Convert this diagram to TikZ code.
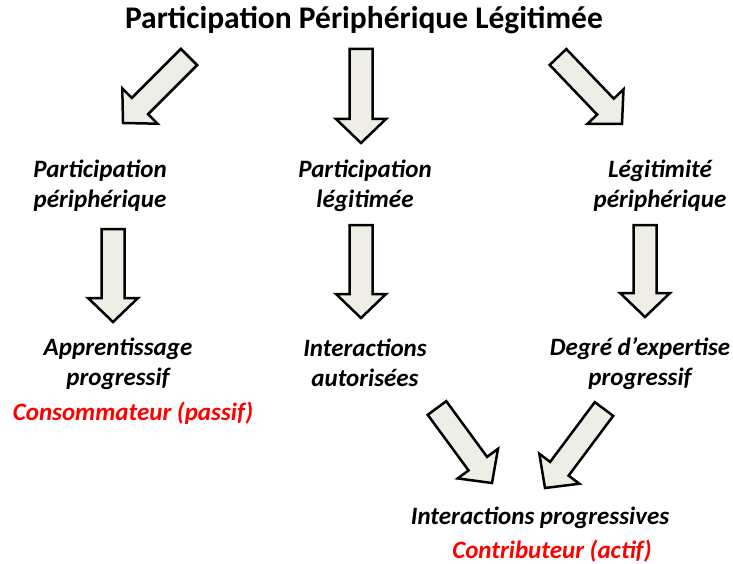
\documentclass[tikz,border=0pt]{standalone}
\usepackage{fontspec}
\setmainfont{Carlito}
\usetikzlibrary{calc}

% half shaft width, half head width, head length
\newcommand\shaftw{11.5pt}
\newcommand\headw{25pt}
\newcommand\headl{24pt}

% block arrow from tail coordinate #1 to tip coordinate #2
\newcommand\blockarrow[2]{%
  \coordinate (#1-h) at ($(#2)!\headl!(#1)$);
  \draw[blockarrow]
    ($(#1)!\shaftw!90:(#2)$) -- ($(#1-h)!\shaftw!-90:(#1)$)
    -- ($(#1-h)!\headw!-90:(#1)$) -- (#2)
    -- ($(#1-h)!\headw!90:(#1)$) -- ($(#1-h)!\shaftw!90:(#1)$)
    -- ($(#1)!\shaftw!-90:(#2)$) -- cycle;}

\definecolor{arrowfill}{HTML}{EEEEE6}

\tikzset{
  blockarrow/.style={draw=black, fill=arrowfill, line width=2.5pt, line join=miter},
  title/.style={font=\fontsize{31.5}{36}\selectfont\bfseries, inner sep=0pt},
  concept/.style={font=\fontsize{25}{30}\selectfont\bfseries\itshape, align=center, inner sep=0pt},
  role/.style={font=\fontsize{25}{30}\selectfont\bfseries\itshape, text=red, inner sep=0pt}
}

\begin{document}
\begin{tikzpicture}[x=1pt, y=-1pt]
\useasboundingbox (0,0) rectangle (733,564);

% texts
\node[title] (ppl) at (364,20) {Participation Périphérique Légitimée};

\node[concept] (pp) at (100,186) {Participation\\périphérique};
\node[concept] (pl) at (365,186) {Participation\\légitimée};
\node[concept] (lp) at (660,186) {Légitimité\\périphérique};

\node[concept] (ap) at (118,364) {Apprentissage\\progressif};
\node[concept] (ia) at (365,363) {Interactions\\autorisées};
\node[concept] (dp) at (640,364) {Degré d’expertise\\progressif};

\node[role] (cons) at (133,413) {Consommateur (passif)};
\node[concept] (ip) at (540,518) {Interactions progressives};
\node[role] (contr) at (552,551) {Contributeur (actif)};

% arrow end points
\coordinate (a1s) at (189,57);  \coordinate (a1e) at (123,123);
\coordinate (a2s) at (361,49);  \coordinate (a2e) at (361,143);
\coordinate (a3s) at (558,57);  \coordinate (a3e) at (622,124);
\coordinate (a4s) at (113,229); \coordinate (a4e) at (113,322);
\coordinate (a5s) at (361,225); \coordinate (a5e) at (361,318);
\coordinate (a6s) at (645,225); \coordinate (a6e) at (645,317);
\coordinate (a7s) at (437,408); \coordinate (a7e) at (492,483);
\coordinate (a8s) at (604,409); \coordinate (a8e) at (545,488);

\blockarrow{a1s}{a1e}
\blockarrow{a2s}{a2e}
\blockarrow{a3s}{a3e}
\blockarrow{a4s}{a4e}
\blockarrow{a5s}{a5e}
\blockarrow{a6s}{a6e}
\blockarrow{a7s}{a7e}
\blockarrow{a8s}{a8e}
\end{tikzpicture}
\end{document}
